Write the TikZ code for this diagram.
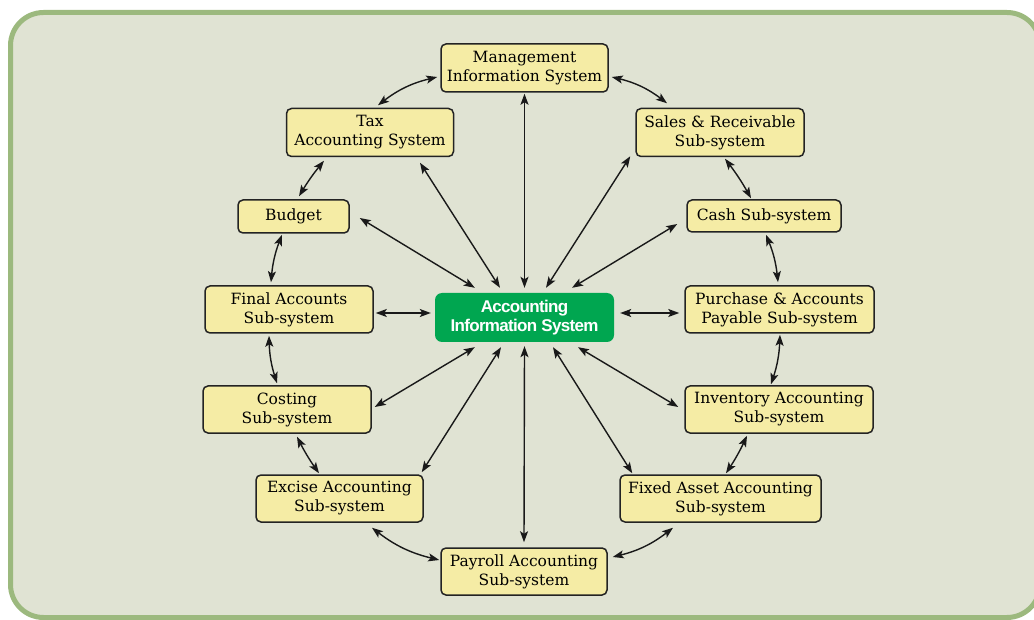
\documentclass[tikz,border=0pt]{standalone}
\usepackage{fontspec}
\setmainfont{DejaVu Serif}
\newfontfamily\aisfont[LetterSpace=-4]{Liberation Sans}
\usetikzlibrary{arrows.meta}
\definecolor{framefill}{RGB}{224,227,211}
\definecolor{framecol}{RGB}{156,185,126}
\definecolor{nodefill}{RGB}{245,236,165}
\definecolor{nodeborder}{RGB}{35,35,35}
\definecolor{aisgreen}{RGB}{0,166,80}
\definecolor{arrowcol}{RGB}{25,25,25}
\begin{document}
\begin{tikzpicture}[x=1pt,y=-1pt,
  sub/.style={draw=nodeborder, line width=1.5pt, fill=nodefill, rounded corners=5pt,
    align=center, inner sep=0pt, font=\fontsize{15.5}{19}\selectfont, text=black},
  aisbox/.style={fill=aisgreen, rounded corners=7pt, align=center, inner sep=0pt,
    text=white, font=\aisfont\bfseries\fontsize{17}{19}\selectfont},
  link/.style={line width=1.4pt, draw=arrowcol,
    {Stealth[length=11pt,width=8pt,inset=2.5pt]}-{Stealth[length=11pt,width=8pt,inset=2.5pt]}},
]
\useasboundingbox (0,0) rectangle (1034,620);
\draw[draw=framecol, line width=5pt, fill=framefill, rounded corners=33pt]
  (10.5,12.5) rectangle (1040,617.5);

% nodes
\node[sub, minimum width=167pt, minimum height=48pt] (mis) at (524.5,68) {Management\\Information System};
\node[sub, minimum width=167pt, minimum height=48pt] (tax) at (370,132.5) {Tax\\Accounting System};
\node[sub, minimum width=168pt, minimum height=48pt] (sales) at (720,132.5) {Sales \& Receivable\\Sub-system};
\node[sub, minimum width=111pt, minimum height=33pt] (budget) at (293.5,216.5) {Budget};
\node[sub, minimum width=154pt, minimum height=32pt] (cash) at (764,216) {Cash Sub-system};
\node[sub, minimum width=168pt, minimum height=47pt] (final) at (289,309.5) {Final Accounts\\Sub-system};
\node[aisbox, minimum width=179pt, minimum height=49pt] (ais) at (524.5,317.5) {Accounting\\Information System};
\node[sub, minimum width=189pt, minimum height=47pt] (purchase) at (779.5,309.5) {Purchase \& Accounts\\Payable Sub-system};
\node[sub, minimum width=168pt, minimum height=47pt] (costing) at (287,409.5) {Costing\\Sub-system};
\node[sub, minimum width=188pt, minimum height=47pt] (inventory) at (779,409.5) {Inventory Accounting\\Sub-system};
\node[sub, minimum width=167pt, minimum height=47pt] (excise) at (339.5,498.5) {Excise Accounting\\Sub-system};
\node[sub, minimum width=201pt, minimum height=47pt] (fixed) at (720.5,498.5) {Fixed Asset Accounting\\Sub-system};
\node[sub, minimum width=166pt, minimum height=47pt] (payroll) at (524,571.5) {Payroll Accounting\\Sub-system};

% ring connectors (clockwise)
\draw[link] ([shift={(3,9)}]mis.east) to[bend left=12] ([shift={(-53,-4.5)}]sales.north);
\draw[link] ([shift={(5,1.5)}]sales.south) to[bend left=4] ([shift={(-13,-1)}]cash.north);
\draw[link] ([shift={(2,2)}]cash.south) to[bend left=8] ([shift={(-1.5,-3)}]purchase.north);
\draw[link] ([shift={(0.5,1)}]purchase.south) to[bend left=8] ([shift={(-8,-1)}]inventory.north);
\draw[link] ([shift={(-32,2)}]inventory.south) to[bend left=4] ([shift={(5.5,-1)}]fixed.north);
\draw[link] ([shift={(-47.5,5)}]fixed.south) to[bend left=12] ([shift={(5,-14.5)}]payroll.east);
\draw[link] ([shift={(-1,-11.5)}]payroll.west) to[bend left=12] ([shift={(32.5,5)}]excise.south);
\draw[link] ([shift={(-20.5,-1)}]excise.north) to[bend left=4] ([shift={(10,3)}]costing.south);
\draw[link] ([shift={(-10,-2)}]costing.north) to[bend left=8] ([shift={(-20,2)}]final.south);
\draw[link] ([shift={(-18,-3)}]final.north) to[bend left=8] ([shift={(-11.5,1)}]budget.south);
\draw[link] ([shift={(5.5,-3)}]budget.north) to[bend left=4] ([shift={(-46,3.5)}]tax.south);
\draw[link] ([shift={(8,-2.5)}]tax.north) to[bend left=12] ([shift={(-3,9)}]mis.west);

% spokes
\draw[link] ([shift={(0,1)}]mis.south) -- ([shift={(0,-5)}]ais.north);
\draw[link] ([shift={(50,5.5)}]tax.south) -- ([shift={(-24.5,-5)}]ais.north);
\draw[link] ([shift={(-5,-1)}]sales.south west) -- ([shift={(21.5,-5)}]ais.north);
\draw[link] ([shift={(10,1.5)}]budget.east) -- ([shift={(40,-5)}]ais.north west);
\draw[link] ([shift={(-9,8)}]cash.west) -- ([shift={(47.5,-5)}]ais.north);
\draw[link] ([shift={(2,3.5)}]final.east) -- ([shift={(-4,-4.5)}]ais.west);
\draw[link] ([shift={(6,-4.5)}]ais.east) -- ([shift={(-5,3.5)}]purchase.west);
\draw[link] ([shift={(3,-2.5)}]costing.east) -- ([shift={(40,5)}]ais.south west);
\draw[link] ([shift={(53.5,5)}]ais.south) -- ([shift={(-6,-2.5)}]inventory.west);
\draw[link] ([shift={(-2,-2)}]excise.north east) -- ([shift={(-23.5,5)}]ais.south);
\draw[link] ([shift={(0,4)}]ais.south) -- ([shift={(0,-5)}]payroll.north);
\draw[link] ([shift={(28.5,5)}]ais.south) -- ([shift={(13,-1)}]fixed.north west);
\end{tikzpicture}
\end{document}
